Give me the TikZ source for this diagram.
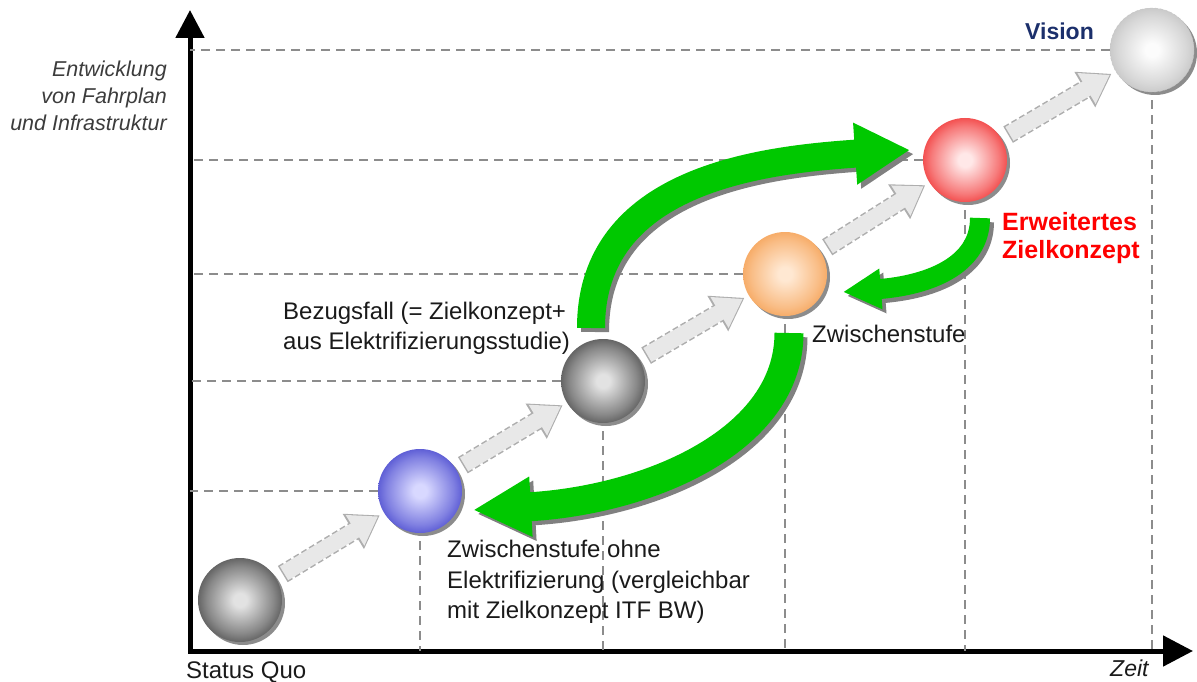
\documentclass[tikz,border=0pt]{standalone}
\usepackage{fontspec}
\setmainfont{Liberation Sans}
\usetikzlibrary{arrows.meta,calc,shadows}
\definecolor{arrowgreen}{HTML}{00C800}
\definecolor{shadowgray}{HTML}{808080}
\definecolor{guidegray}{HTML}{8C8C8C}
\definecolor{stepgray} {HTML}{E8E8E8}
\definecolor{visionblue}{HTML}{1B2F6B}
\definecolor{zielred}  {HTML}{FF0000}
\definecolor{textgray} {HTML}{1A1A1A}
\definecolor{sqin}  {HTML}{E2E2E2} \definecolor{sqout}  {HTML}{2E2E2E}
\definecolor{bluein}{HTML}{D8D8FF} \definecolor{blueout}{HTML}{2A2AC4}
\definecolor{orin}  {HTML}{FFE8D2} \definecolor{orout}  {HTML}{F3923A}
\definecolor{redin} {HTML}{FFE8E8} \definecolor{redout} {HTML}{EE0E0E}
\definecolor{visin} {HTML}{FCFCFC} \definecolor{visout} {HTML}{B4B4B4}
\colorlet{sphin}{white}\colorlet{sphout}{black}
\pgfdeclareradialshading[sphin,sphout]{sphere}{\pgfpointorigin}
  {color(0bp)=(sphin); color(4bp)=(sphin); color(20bp)=(sphin!50!sphout);
   color(33bp)=(sphout); color(50bp)=(sphout)}

\begin{document}
\begin{tikzpicture}[x=1pt,y=-1pt,
  sphere/.style 2 args={circle,inner sep=0pt,minimum size=84pt,
                 /utils/exec={\colorlet{sphin}{#1}\colorlet{sphout}{#2}},shading=sphere,
                 drop shadow={shadow xshift=3pt,shadow yshift=-3pt,fill=shadowgray,opacity=.9}},
  guide/.style={guidegray,line width=2pt,dash pattern=on 9pt off 6pt},
  axisline/.style={line width=5pt,line join=miter,
                   {Triangle[length=28pt,width=28pt]}-{Triangle[length=30pt,width=30pt]}},
  stepout/.style={line width=19pt,guidegray!70,dash pattern=on 6pt off 3pt,
                  -{Triangle[length=31pt,width=39pt]}},
  stepin/.style={line width=16pt,stepgray,shorten <=1.5pt,shorten >=2pt,
                 -{Triangle[length=27pt,width=34pt]}},
  garr/.style n args={3}{line width=#1,-{Triangle[length=#2,width=#3]}},
  lbl/.style={inner sep=0pt,text=textgray,align=left,font=\fontsize{24}{30.5}\selectfont}
]
\useasboundingbox (0,0) rectangle (1197,682);

% axes
\coordinate (ytip) at (190,10);
\coordinate (O)    at (190,651);
\coordinate (xtip) at (1193,651);
\draw[axisline] (ytip) -- (O) -- (xtip);

% stages
\node[sphere={sqin}{sqout}]     (sq)  at (240,600) {};
\node[sphere={bluein}{blueout}] (zsa) at (420,491) {};
\node[sphere={sqin}{sqout}]     (bez) at (603,381) {};
\node[sphere={orin}{orout}]     (zsb) at (785,274) {};
\node[sphere={redin}{redout}]   (ezk) at (965,160) {};
\node[sphere={visin}{visout},draw=guidegray!50,
      dash pattern=on 3pt off 2pt] (vis) at (1152,50) {};

\foreach \s in {zsa,bez,zsb,ezk,vis}{
  \draw[guide] (\s.west) -- (\s.west -| O);
  \draw[guide,shorten <=8pt] (\s.south) -- (\s.south |- O);
}

\foreach \a/\b in {sq/zsa,zsa/bez,bez/zsb,zsb/ezk,ezk/vis}{
  \draw[stepout] ($(\a)!50pt!(\b)$) -- ($(\b)!47pt!(\a)$);
  \draw[stepin]  ($(\a)!50pt!(\b)$) -- ($(\b)!47pt!(\a)$);
}

% green jumps
\coordinate (g1s) at (591,328); \coordinate (g1e) at (910,150);
\coordinate (g2s) at (980,218); \coordinate (g2e) at (843,292);
\coordinate (g3s) at (789,333); \coordinate (g3e) at (473,510);
\foreach \col/\sh in {shadowgray/4pt,arrowgreen/0pt}{
  \begin{scope}[color=\col,transform canvas={shift={(\sh,-\sh)}}]
    \draw[garr={28pt}{55pt}{58pt}] (g1s) .. controls +(0,-148) and +(-150,10) .. (g1e);
    \draw[garr={20pt}{38pt}{38pt}] (g2s) .. controls +(0,47) and +(87,-7) .. (g2e);
    \draw[garr={29pt}{58pt}{56pt}] (g3s) .. controls +(0,107) and +(177,-10) .. (g3e);
  \end{scope}
}

% labels
\node[lbl,anchor=north east,align=right,text=textgray!85,
      font=\fontsize{21.5}{27}\selectfont\itshape] (ylbl) at (167,60.5)
      {Entwicklung\\von Fahrplan\\und Infrastruktur};
\node[lbl,anchor=base west] (sqlbl) at (186,678) {Status Quo};
\node[lbl,anchor=base west,font=\fontsize{23}{28}\selectfont\itshape] (xlbl) at (1110,676) {Zeit};
\node[lbl,anchor=north west] (bezlbl) at (283,301.5)
      {Bezugsfall (= Zielkonzept+\\aus Elektrifizierungsstudie)};
\node[lbl,anchor=north west] (zsalbl) at (447,540)
      {Zwischenstufe ohne\\Elektrifizierung (vergleichbar\\mit Zielkonzept ITF BW)};
\node[lbl,anchor=base west] (zsblbl) at (812,342) {Zwischenstufe};
\node[lbl,anchor=north west,text=zielred,font=\fontsize{25}{28}\selectfont\bfseries]
      (ezklbl) at (1002,212.5) {Erweitertes\\Zielkonzept};
\node[lbl,anchor=base west,text=visionblue,font=\fontsize{23}{28}\selectfont\bfseries]
      (vislbl) at (1025,40) {Vision};
\end{tikzpicture}
\end{document}
